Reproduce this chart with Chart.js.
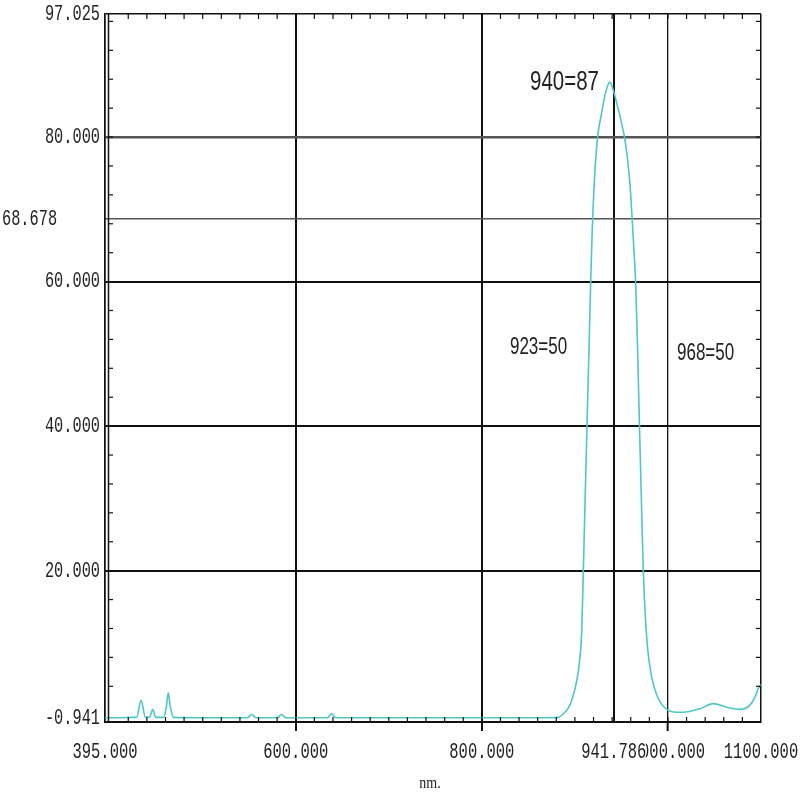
<!DOCTYPE html>
<html>
<head>
<meta charset="utf-8">
<script src="https://cdn.jsdelivr.net/npm/chart.js@4.4.1/dist/chart.umd.min.js"></script>
<style>
  body { margin: 0; background: #fff; }
  canvas { display: block; }
</style>
</head>
<body>
<canvas id="specChart" width="800" height="795"></canvas>
<script>
// spectrum
const wavelengths = [
    395, 410, 425, 429, 433.7, 438.5, 443, 446.3, 449.5, 458, 461, 463, 465, 468.5,
    500, 548, 552.6, 557, 580, 584.9, 589, 634, 638.6, 643, 700, 760, 820, 870,
    882, 887.5, 893, 897.5, 902, 905.5, 907.3, 909.0, 910.9, 912.7, 914.6, 916.2, 917.4,
    918.6, 920.0, 921.6, 923.3, 925.2, 928.7, 932.3, 935.5, 937.5, 939.5, 944.2, 949.5,
    953.8, 956.7, 959.2, 961.6, 963.6, 965.3, 967.4, 969.6, 971.5, 973.6, 976.0, 978.5,
    982.5, 987.9, 996.8, 1009.4, 1016.5, 1034.5, 1048.7, 1063.1, 1077.4, 1088.2, 1093.5,
    1097.1, 1100
];
const transmittance = [
    -0.35, -0.35, -0.3, -0.3, 2.05, -0.3, -0.25, 0.8, -0.3, -0.3, 1.2, 3.1, 1.4, -0.3,
    -0.35, -0.35, 0.1, -0.35, -0.35, 0.1, -0.35, -0.35, 0.2, -0.35, -0.35, -0.35, -0.35, -0.35,
    -0.3, 0.2, 1.0, 2.4, 4.8, 8.0, 11.5, 19.6, 29.5, 38.5, 48.0, 56.0, 62.0,
    67.0, 71.5, 75.5, 78.5, 80.8, 83.3, 85.8, 87.2, 87.6, 87.2, 85.1, 82.3,
    79.6, 76.8, 73.5, 68.5, 64.0, 59.8, 50.5, 39.0, 29.5, 19.6, 13.0, 8.8,
    5.3, 2.8, 1.0, 0.4, 0.4, 0.9, 1.6, 1.1, 0.8, 1.4, 2.5,
    3.7, 4.2
];

// axis marks
const xTicks = [395, 600, 800, 941.786, 1000, 1100];
const xTickLabels = ["395.000", "600.000", "800.000", "941.786", "1000.000", "1100.000"];
const yTicks = [-0.941, 20, 40, 60, 68.678, 80, 97.025];
const yTickLabels = ["-0.941", "20.000", "40.000", "60.000", "68.678", "80.000", "97.025"];
const xTitle = "nm.";

// text notes on the plot, in data units
const noteTexts = ["940=87", "923=50", "968=50"];
const noteX = [925.9, 830.2, 1009.7];
const noteY = [87.6, 50.9, 50.1];

const INK = "#111";

function stretchText(ctx, text, x, y, size, family, sy, align) {
    ctx.save();
    ctx.translate(x, y);
    ctx.scale(1, sy);
    ctx.font = size + "px " + family;
    ctx.textAlign = align;
    ctx.textBaseline = "middle";
    ctx.fillText(text, 0, 0);
    ctx.restore();
}

function seg(ctx, x1, y1, x2, y2) {
    ctx.beginPath();
    ctx.moveTo(x1, y1);
    ctx.lineTo(x2, y2);
    ctx.stroke();
}

const extras = {
    id: "extras",
    afterDraw(chart) {
        const { ctx, chartArea: a } = chart;
        const xs = chart.scales.x, ys = chart.scales.y;
        ctx.save();

        // second line of the left frame
        ctx.strokeStyle = INK;
        ctx.lineWidth = 1.5;
        seg(ctx, a.left + 3.5, a.top, a.left + 3.5, a.bottom);

        // minor ticks
        ctx.lineWidth = 1.2;
        for (let v = 420; v < 1100; v += 20) {
            const px = xs.getPixelForValue(v);
            seg(ctx, px, a.bottom, px, a.bottom - 5);
            seg(ctx, px, a.top, px, a.top + 5);
        }
        for (let v = 4; v < 97; v += 4) {
            const py = ys.getPixelForValue(v);
            seg(ctx, a.left + 3.5, py, a.left + 8, py);
            seg(ctx, a.right, py, a.right - 5, py);
        }

        // y labels
        ctx.fillStyle = "#222";
        yTicks.forEach((v, i) => {
            let py = ys.getPixelForValue(v);
            if (v === yTicks[0]) py -= 4;
            if (v === 68.678) {
                stretchText(ctx, yTickLabels[i], 2, py, 15.3, "'Liberation Mono'", 1.45, "left");
            } else {
                stretchText(ctx, yTickLabels[i], a.left - 5, py, 15.3, "'Liberation Mono'", 1.45, "right");
            }
        });

        // x labels, 941.786 sits on top of 1000.000
        const order = [0, 1, 2, 4, 3, 5];
        order.forEach(i => {
            const px = xs.getPixelForValue(xTicks[i]);
            if (xTicks[i] === 941.786) {
                ctx.fillStyle = "#fff";
                ctx.fillRect(px - 34, 740, 66, 24);
                ctx.fillStyle = "#222";
            }
            stretchText(ctx, xTickLabels[i], px, 752, 15.5, "'Liberation Mono'", 1.45, "center");
        });
        stretchText(ctx, xTitle, 430, 784, 14, "'Liberation Serif'", 1.2, "center");

        // notes
        noteTexts.forEach((t, i) => {
            const px = xs.getPixelForValue(noteX[i]);
            const py = ys.getPixelForValue(noteY[i]);
            const size = i === 0 ? 20.5 : 17;
            stretchText(ctx, t, px, py, size, "'Liberation Sans'", 1.36, i === 0 ? "right" : "left");
        });

        ctx.restore();
    }
};

function xGridColor(c) {
    return INK;
}
function xGridWidth(c) {
    const v = c.tick ? c.tick.value : 0;
    if (v === 1000) return 1.3;
    if (v === 395 || v === 1100) return 1.5;
    return 2;
}
function yGridColor(c) {
    const v = c.tick ? c.tick.value : 0;
    if (v === 80 || v === 68.678) return "#555";
    return INK;
}
function yGridWidth(c) {
    const v = c.tick ? c.tick.value : 0;
    if (v === 80) return 2.5;
    if (v === 68.678) return 1.5;
    if (v === 97.025) return 1.5;
    return 2;
}

const points = wavelengths.map((w, i) => ({ x: w, y: transmittance[i] }));

new Chart(document.getElementById("specChart"), {
    type: "line",
    data: {
        datasets: [{
            data: points,
            borderColor: "#4cc8c8",
            borderWidth: 1.6,
            pointRadius: 0,
            cubicInterpolationMode: "monotone",
            fill: false
        }]
    },
    options: {
        responsive: false,
        animation: false,
        devicePixelRatio: 1,
        layout: { padding: { left: 105, right: 39, top: 14, bottom: 64 } },
        plugins: {
            legend: { display: false },
            tooltip: { enabled: false }
        },
        scales: {
            x: {
                type: "linear",
                min: 395,
                max: 1100,
                afterBuildTicks: s => { s.ticks = xTicks.map(v => ({ value: v })); },
                ticks: { display: false },
                grid: {
                    color: xGridColor,
                    lineWidth: xGridWidth,
                    drawTicks: true,
                    tickLength: 9,
                    tickWidth: 2,
                    tickColor: c => {
                        const v = c.tick ? c.tick.value : 0;
                        return (v === 600 || v === 800 || v === 1000) ? INK : "rgba(0,0,0,0)";
                    }
                },
                border: { display: true, color: INK, width: 2 }
            },
            y: {
                type: "linear",
                min: -0.941,
                max: 97.025,
                afterBuildTicks: s => { s.ticks = yTicks.map(v => ({ value: v })); },
                ticks: { display: false },
                grid: { color: yGridColor, lineWidth: yGridWidth, drawTicks: false },
                border: { display: true, color: INK, width: 1.5 }
            }
        }
    },
    plugins: [extras]
});
</script>
</body>
</html>
